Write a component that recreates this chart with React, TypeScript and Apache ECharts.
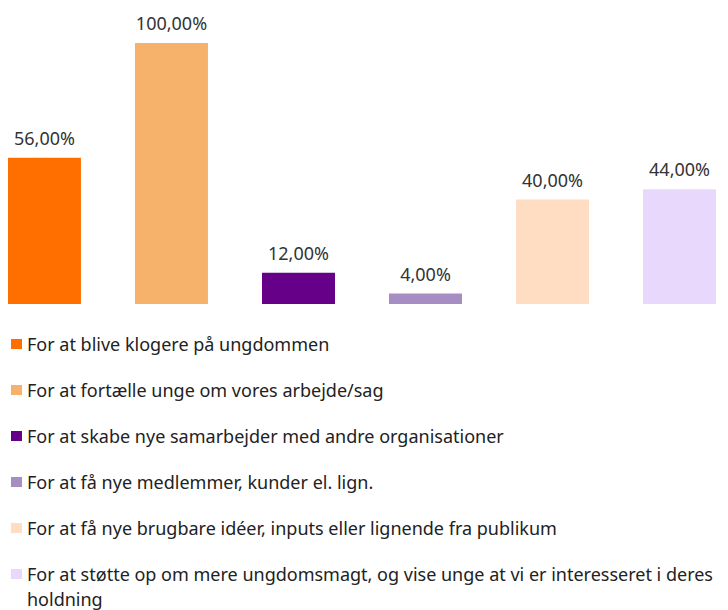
import React, { useEffect, useRef } from "react";
import * as echarts from "echarts";

const categories = ["Formål"];
const seriesNames = [
  "For at blive klogere på ungdommen",
  "For at fortælle unge om vores arbejde/sag",
  "For at skabe nye samarbejder med andre organisationer",
  "For at få nye medlemmer, kunder el. lign.",
  "For at få nye brugbare idéer, inputs eller lignende fra publikum",
  "For at støtte op om mere ungdomsmagt, og vise unge at vi er interesseret i deres holdning",
];
const values = [56, 100, 12, 4, 40, 44];
const colors = ["#FF6F00", "#F6B26B", "#660088", "#A68DC2", "#FFDDC3", "#E8D8FC"];
const wrapWord = "holdning";

const FONT = "'Noto Sans', Lato, sans-serif";

export default function App() {
  const ref = useRef<HTMLDivElement>(null);
  useEffect(() => {
    if (!ref.current) return;
    const chart = echarts.init(ref.current, null, { renderer: "svg" });
    const lastName = seriesNames[seriesNames.length - 1];
    const firstLine = lastName.slice(0, lastName.length - wrapWord.length).trimEnd();
    chart.setOption({
      animation: false,
      textStyle: { fontFamily: FONT },
      grid: { left: 8, right: 12, top: 43, height: 261, containLabel: false },
      xAxis: {
        type: "category",
        data: categories,
        show: false,
      },
      yAxis: { type: "value", min: 0, max: 100, show: false },
      legend: {
        orient: "vertical",
        left: 11,
        top: 333,
        padding: 0,
        itemWidth: 11,
        itemHeight: 10,
        itemGap: 24,
        icon: "rect",
        selectedMode: false,
        data: seriesNames,
        formatter: (name: string) => (name === lastName ? firstLine : name),
        textStyle: { fontFamily: FONT, fontSize: 18, color: "#222", lineHeight: 22 },
      },
      graphic: [
        {
          type: "text",
          x: 27,
          y: 599,
          style: {
            text: wrapWord,
            font: `18px ${FONT}`,
            fill: "#222",
            verticalAlign: "middle",
          },
        },
      ],
      series: seriesNames.map((name, i) => ({
        type: "bar",
        name,
        data: [values[i]],
        barWidth: 73,
        barGap: "74%",
        itemStyle: { color: colors[i] },
        label: {
          show: true,
          position: "top",
          distance: 11,
          formatter: (p: any) => p.value.toFixed(2).replace(".", ",") + "%",
          fontFamily: FONT,
          fontSize: 18,
          color: "#333",
        },
      })),
    });
    return () => chart.dispose();
  }, []);
  return (
    <div
      ref={ref}
      style={{ position: "absolute", left: 0, top: 0, width: 728, height: 610 }}
    />
  );
}
